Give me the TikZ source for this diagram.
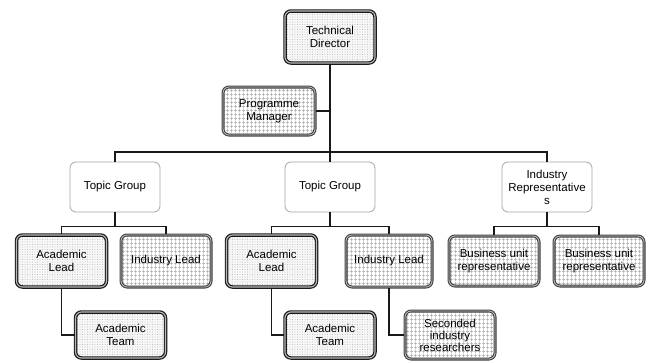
\documentclass[tikz,border=0pt]{standalone}
\usepackage{fontspec}
\setmainfont{Liberation Sans}
\usetikzlibrary{positioning, patterns.meta}

\begin{document}
\begin{tikzpicture}[x=1pt, y=-1pt,
    box/.style={rounded corners=6pt, align=center, inner sep=1pt,
        minimum width=90pt, minimum height=50pt,
        font=\fontsize{11.5}{13}\selectfont},
    plainbox/.style={box, draw=gray!70, line width=0.8pt, fill=white},
    dotbox/.style={box, preaction={fill=gray!6},
        pattern={Dots[distance=2.5pt, radius=0.45pt]}, pattern color=gray!75,
        draw=black!90, line width=1.2pt, double=gray!55, double distance=1.1pt},
    gridbox/.style={box, preaction={fill=white},
        pattern={Hatch[distance=4pt, angle=0, line width=0.6pt]}, pattern color=gray!70,
        draw=black!75, line width=1.1pt, double=gray!45, double distance=0.8pt},
    link/.style={draw=black!90, line width=1.5pt}]

    % 0. Canvas
    \fill[white] (0,0) rectangle (651,362);
    \useasboundingbox (0,0) rectangle (651,362);

    % 1. Top of the chart
    \node[dotbox, minimum height=52pt] (td) at (330,37) {Technical\\Director};
    \node[gridbox, minimum width=92pt, minimum height=48pt] (pm) at (269,111) {Programme\\Manager};

    % 2. Second level
    \node[plainbox] (tg1) at (115,187) {Topic Group};
    \node[plainbox] (tg2) at (330,187) {Topic Group};
    \node[plainbox] (ir) at (547,187) {Industry\\Representative\\s};

    % 3. Third level
    \node[dotbox, minimum height=52pt] (al1) at (61.5,261) {Academic\\Lead};
    \node[gridbox, minimum height=52pt] (il1) at (166,261) {Industry Lead};
    \node[dotbox, minimum height=52pt] (al2) at (271.5,261) {Academic\\Lead};
    \node[gridbox, minimum width=86pt, minimum height=52pt] (il2) at (389,261) {Industry Lead};
    \node[gridbox, minimum height=50pt] (bu1) at (494,261) {Business unit\\representative};
    \node[gridbox, minimum height=50pt] (bu2) at (599,261) {Business unit\\representative};

    % 4. Bottom level
    \node[dotbox, minimum height=46pt] (at1) at (120.5,335) {Academic\\Team};
    \node[dotbox, minimum height=46pt] (at2) at (330,335) {Academic\\Team};
    \node[gridbox, minimum height=48pt, font=\fontsize{11.5}{12}\selectfont] (sir) at (450,335) {Seconded\\industry\\researchers};

    % 5. Connectors
    \draw[link] (td.south) -- (tg2.north);
    \draw[link] (pm.east) -- (pm.east -| td.south);
    \coordinate (bus) at (330,152);
    \draw[link] (tg1.north) |- (bus) -| (ir.north);

    \draw[link] (tg1.south) -- ++(0,14) coordinate (j1);
    \draw[link] (al1.north) |- (j1) -| (il1.north);
    \draw[link] (tg2.south) -- ++(0,14) coordinate (j2);
    \draw[link] (al2.north) |- (j2) -| (il2.north);
    \draw[link] (ir.south) -- ++(0,14) coordinate (j3);
    \draw[link] (bu1.north) |- (j3) -| (bu2.north);

    \draw[link] (al1.south) |- (at1.west);
    \draw[link] (al2.south) |- (at2.west);
    \draw[link] (il2.south) |- (sir.west);

\end{tikzpicture}
\end{document}
